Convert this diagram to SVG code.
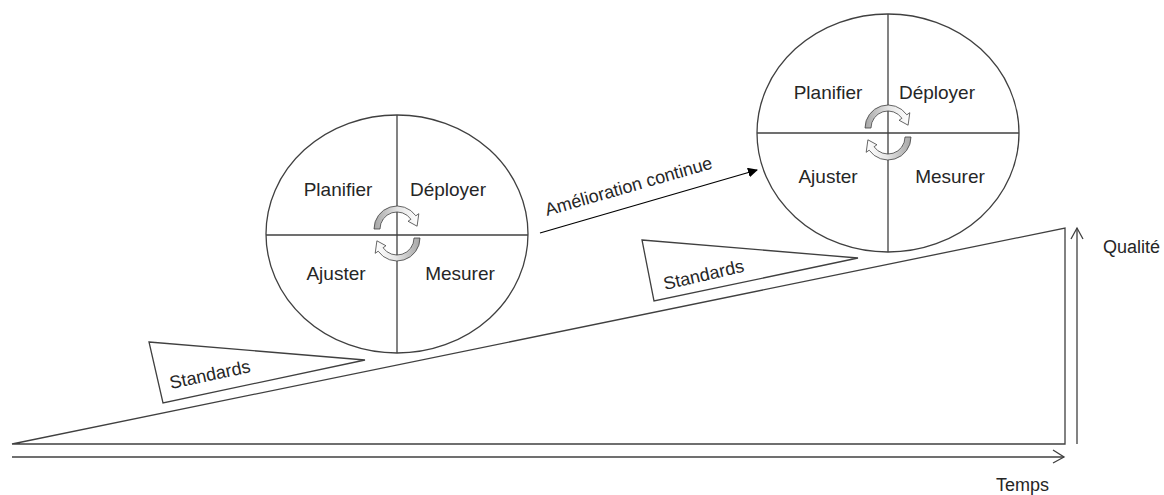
<svg xmlns="http://www.w3.org/2000/svg" width="1164" height="495" viewBox="0 0 1164 495">
  <style>
    .ln { fill: none; stroke: #404040; stroke-width: 1.3; }
    .shape { fill: #ffffff; stroke: #404040; stroke-width: 1.3; }
    .lbl { font-family: "Liberation Sans", Arial, sans-serif; font-size: 19px; fill: #262626; }
    .sm { font-family: "Liberation Sans", Arial, sans-serif; font-size: 18px; fill: #262626; }
    .cyc { fill: url(#cycGrad); stroke: #404040; stroke-width: 0.8; }
  </style>
  <defs>
    <linearGradient id="cycGrad" x1="0" y1="0" x2="1" y2="0">
      <stop offset="0" stop-color="#a6a6a6"/>
      <stop offset="0.55" stop-color="#e6e6e6"/>
      <stop offset="1" stop-color="#ffffff"/>
    </linearGradient>
    <!-- curved block arrow: band over the top, head pointing down on the right -->
    <path id="cycArrow" class="cyc" d="M -23 0 A 23 23 0 0 1 18.84 -13.19 L 21.8 -15.3 L 20.1 -2.8 L 11.06 -7.74 L 13.93 -9.75 A 17 17 0 0 0 -17 0 Z"/>
    <marker id="solidHead" viewBox="0 0 10 10" refX="9" refY="5" markerWidth="10" markerHeight="10" markerUnits="userSpaceOnUse" orient="auto">
      <path d="M0 0 L10 5 L0 10 Z" fill="#000"/>
    </marker>
  </defs>

  <!-- rising quality slope -->
  <g id="slope">
    <polygon class="shape" points="12,444 1065,228 1065,444"/>
  </g>

  <!-- axes -->
  <g id="axes">
    <line class="ln" x1="12" y1="457" x2="1064" y2="457"/>
    <polyline class="ln" points="1053,450 1064,457 1053,463"/>
    <line class="ln" x1="1077" y1="444" x2="1077" y2="228"/>
    <polyline class="ln" points="1071,239 1077,228 1083,239"/>
    <text class="sm" x="1103" y="253">Qualité</text>
    <text class="sm" x="996" y="491">Temps</text>
  </g>

  <!-- wedges holding each level -->
  <g id="standards1">
    <polygon class="shape" points="149,342 365,360 163,403"/>
    <text class="sm" font-size="19" transform="translate(171,389) rotate(-12)">Standards</text>
  </g>
  <g id="standards2">
    <polygon class="shape" points="642,240 858,258 654,301"/>
    <text class="sm" font-size="19" transform="translate(665,290) rotate(-13)">Standards</text>
  </g>

  <!-- PDCA wheel, lower level -->
  <g id="wheel1">
    <ellipse class="shape" cx="397" cy="234" rx="131" ry="119"/>
    <line class="ln" x1="266" y1="235" x2="528" y2="235"/>
    <line class="ln" x1="397" y1="115" x2="397" y2="353"/>
    <text class="lbl" x="338" y="196" text-anchor="middle">Planifier</text>
    <text class="lbl" x="448" y="196" text-anchor="middle">Déployer</text>
    <text class="lbl" x="336" y="280" text-anchor="middle">Ajuster</text>
    <text class="lbl" x="460" y="280" text-anchor="middle">Mesurer</text>
    <use href="#cycArrow" transform="translate(397,229)"/>
    <use href="#cycArrow" transform="translate(397,238) rotate(180)"/>
  </g>

  <!-- PDCA wheel, upper level -->
  <g id="wheel2">
    <ellipse class="shape" cx="888" cy="133" rx="131" ry="119"/>
    <line class="ln" x1="757" y1="133" x2="1019" y2="133"/>
    <line class="ln" x1="888" y1="14" x2="888" y2="252"/>
    <text class="lbl" x="828" y="99" text-anchor="middle">Planifier</text>
    <text class="lbl" x="937" y="99" text-anchor="middle">Déployer</text>
    <text class="lbl" x="828" y="183" text-anchor="middle">Ajuster</text>
    <text class="lbl" x="950" y="183" text-anchor="middle">Mesurer</text>
    <use href="#cycArrow" transform="translate(888,128)"/>
    <use href="#cycArrow" transform="translate(888,137) rotate(180)"/>
  </g>

  <!-- continuous improvement connector -->
  <g id="connectors">
    <line x1="540" y1="233" x2="757" y2="170" stroke="#000" stroke-width="1.3" marker-end="url(#solidHead)"/>
    <text class="sm" font-size="19.5" transform="translate(547,216) rotate(-16)">Amélioration continue</text>
  </g>
</svg>
